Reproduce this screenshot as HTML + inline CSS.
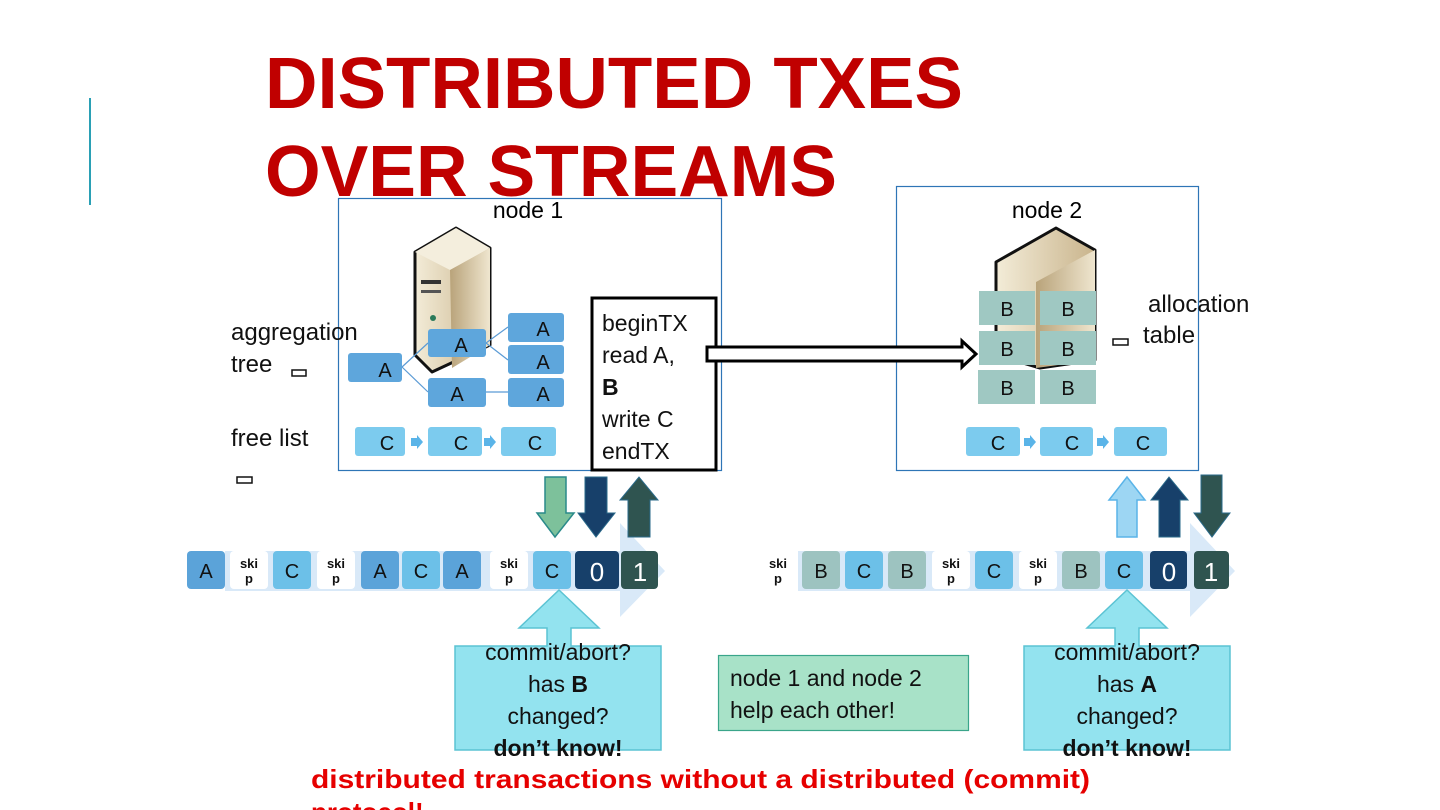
<!DOCTYPE html>
<html><head><meta charset="utf-8"><style>
html,body{margin:0;padding:0;background:#fff;width:1440px;height:810px;overflow:hidden}
svg{display:block;font-family:"Liberation Sans",sans-serif}
</style></head><body>
<svg width="1440" height="810" viewBox="0 0 1440 810" xmlns="http://www.w3.org/2000/svg">
<defs>
<linearGradient id="srv" x1="0" x2="1"><stop offset="0" stop-color="#f3ecd8"/><stop offset="1" stop-color="#c9b48c"/></linearGradient>
<linearGradient id="srvs" x1="0" x2="1"><stop offset="0" stop-color="#b9a37a"/><stop offset="1" stop-color="#efe6cf"/></linearGradient>
</defs>
<rect x="89" y="98" width="2" height="107" fill="#2aa0b5"/>
<text x="265" y="108" font-size="72" font-weight="bold" fill="#c00000" textLength="698" lengthAdjust="spacingAndGlyphs">DISTRIBUTED TXES</text>
<text x="265" y="196" font-size="72" font-weight="bold" fill="#c00000" textLength="572" lengthAdjust="spacingAndGlyphs">OVER STREAMS</text>

<rect x="338.5" y="198.5" width="383" height="272" fill="none" stroke="#2e75b6" stroke-width="1.2"/>
<rect x="896.5" y="186.5" width="302" height="284" fill="none" stroke="#2e75b6" stroke-width="1.2"/>
<text x="528" y="218" font-size="23" text-anchor="middle">node 1</text>
<text x="1047" y="218" font-size="23" text-anchor="middle">node 2</text>

<g stroke="#111" stroke-width="3" stroke-linejoin="round">
<polygon points="415,252 456,228 490,248 490,345 432,372 415,355" fill="url(#srv)"/>
</g>
<polygon points="415,252 456,228 490,248 450,270" fill="#f4eedd"/>
<polygon points="450,270 490,248 490,345 452,368" fill="url(#srvs)"/>
<rect x="421" y="280" width="20" height="4" fill="#333"/><rect x="421" y="290" width="20" height="3" fill="#555"/>
<circle cx="433" cy="318" r="3" fill="#2a7a5a"/>
<g stroke="#111" stroke-width="3" stroke-linejoin="round">
<polygon points="996,262 1056,228 1095,250 1095,360 1040,368 996,355" fill="url(#srv)"/>
</g>
<polygon points="1036,282 1095,250 1095,360 1036,368" fill="url(#srvs)"/>

<g stroke="#5b9bd5" stroke-width="1.2">
<line x1="402" y1="367" x2="428" y2="343"/><line x1="402" y1="367" x2="428" y2="392"/>
<line x1="486" y1="343" x2="508" y2="327"/><line x1="486" y1="343" x2="508" y2="360"/>
<line x1="486" y1="392" x2="508" y2="392"/>
</g>
<g fill="#5ea6dc">
<rect x="348" y="353" width="54" height="29" rx="3"/>
<rect x="428" y="329" width="58" height="28" rx="3"/>
<rect x="428" y="378" width="58" height="29" rx="3"/>
<rect x="508" y="313" width="56" height="29" rx="3"/>
<rect x="508" y="345" width="56" height="29" rx="3"/>
<rect x="508" y="378" width="56" height="29" rx="3"/>
</g>
<g font-size="20" fill="#111" text-anchor="middle">
<text x="385" y="377">A</text><text x="461" y="352">A</text><text x="457" y="401">A</text>
<text x="543" y="336">A</text><text x="543" y="369">A</text><text x="543" y="401">A</text>
</g>
<g fill="#7ccbee">
<rect x="355" y="427" width="50" height="29" rx="3"/><rect x="428" y="427" width="54" height="29" rx="3"/><rect x="501" y="427" width="55" height="29" rx="3"/>
<rect x="966" y="427" width="54" height="29" rx="3"/><rect x="1040" y="427" width="53" height="29" rx="3"/><rect x="1114" y="427" width="53" height="29" rx="3"/>
</g>
<g fill="#5ab4e8">
<polygon points="411,438 417,438 417,435 423,442 417,449 417,446 411,446"/>
<polygon points="484,438 490,438 490,435 496,442 490,449 490,446 484,446"/>
<polygon points="1024,438 1030,438 1030,435 1036,442 1030,449 1030,446 1024,446"/>
<polygon points="1097,438 1103,438 1103,435 1109,442 1103,449 1103,446 1097,446"/>
</g>
<g font-size="20" fill="#111" text-anchor="middle">
<text x="387" y="450">C</text><text x="461" y="450">C</text><text x="535" y="450">C</text>
<text x="998" y="450">C</text><text x="1072" y="450">C</text><text x="1143" y="450">C</text>
</g>

<g font-size="24" fill="#111">
<text x="231" y="340">aggregation</text><text x="231" y="372">tree</text>
<text x="231" y="446">free list</text>
<text x="1148" y="312">allocation</text><text x="1143" y="343">table</text>
</g>
<rect x="292" y="370" width="14" height="6" fill="none" stroke="#111" stroke-width="1.5"/>
<rect x="237" y="477" width="15" height="6" fill="none" stroke="#111" stroke-width="1.5"/>
<rect x="1113" y="339" width="15" height="6" fill="none" stroke="#111" stroke-width="1.5"/>

<g fill="#9fc8c2">
<rect x="979" y="291" width="56" height="34"/><rect x="1040" y="291" width="56" height="34"/>
<rect x="979" y="331" width="56" height="34"/><rect x="1040" y="331" width="56" height="34"/>
<rect x="978" y="370" width="57" height="34"/><rect x="1040" y="370" width="56" height="34"/>
</g>
<g font-size="20" fill="#111" text-anchor="middle">
<text x="1007" y="316">B</text><text x="1068" y="316">B</text>
<text x="1007" y="356">B</text><text x="1068" y="356">B</text>
<text x="1007" y="395">B</text><text x="1068" y="395">B</text>
</g>

<rect x="592" y="298" width="124" height="172" fill="#fff" stroke="#000" stroke-width="3"/>
<g font-size="23" fill="#111">
<text x="602" y="331">beginTX</text><text x="602" y="363">read A,</text>
<text x="602" y="395" font-weight="bold">B</text><text x="602" y="427">write C</text><text x="602" y="459">endTX</text>
</g>
<polygon points="707,347 962,347 962,341 976,354 962,367 962,361 707,361" fill="#fff" stroke="#000" stroke-width="3"/>

<polygon points="225,551 620,551 620,523 665,571 620,617 620,591 225,591" fill="#d9e9f8"/>
<g>
<rect x="187" y="551" width="38" height="38" rx="4" fill="#5ba3d9"/>
<rect x="230" y="551" width="38" height="38" rx="4" fill="#fff"/>
<rect x="273" y="551" width="38" height="38" rx="4" fill="#6cc0e8"/>
<rect x="317" y="551" width="38" height="38" rx="4" fill="#fff"/>
<rect x="361" y="551" width="38" height="38" rx="4" fill="#5ba3d9"/>
<rect x="402" y="551" width="38" height="38" rx="4" fill="#6cc0e8"/>
<rect x="443" y="551" width="38" height="38" rx="4" fill="#5ba3d9"/>
<rect x="490" y="551" width="38" height="38" rx="4" fill="#fff"/>
<rect x="533" y="551" width="38" height="38" rx="4" fill="#6cc0e8"/>
<rect x="575" y="551" width="44" height="38" rx="4" fill="#17406a"/>
<rect x="621" y="551" width="37" height="38" rx="4" fill="#2f5450"/>
</g>
<polygon points="798,551 1190,551 1190,523 1235,571 1190,617 1190,591 798,591" fill="#d9e9f8"/>
<g>
<rect x="802" y="551" width="38" height="38" rx="4" fill="#9dc3c0"/>
<rect x="845" y="551" width="38" height="38" rx="4" fill="#6cc0e8"/>
<rect x="888" y="551" width="38" height="38" rx="4" fill="#9dc3c0"/>
<rect x="932" y="551" width="38" height="38" rx="4" fill="#fff"/>
<rect x="975" y="551" width="38" height="38" rx="4" fill="#6cc0e8"/>
<rect x="1019" y="551" width="38" height="38" rx="4" fill="#fff"/>
<rect x="1062" y="551" width="38" height="38" rx="4" fill="#9dc3c0"/>
<rect x="1105" y="551" width="38" height="38" rx="4" fill="#6cc0e8"/>
<rect x="1150" y="551" width="37" height="38" rx="4" fill="#17406a"/>
<rect x="1194" y="551" width="35" height="38" rx="4" fill="#2f5450"/>
</g>
<g font-size="20" fill="#111" text-anchor="middle">
<text x="206" y="578">A</text><text x="292" y="578">C</text><text x="380" y="578">A</text><text x="421" y="578">C</text><text x="462" y="578">A</text><text x="552" y="578">C</text>
<text x="821" y="578">B</text><text x="864" y="578">C</text><text x="907" y="578">B</text><text x="994" y="578">C</text><text x="1081" y="578">B</text><text x="1124" y="578">C</text>
</g>
<g font-size="26" fill="#fff" text-anchor="middle">
<text x="597" y="581">0</text><text x="640" y="581">1</text><text x="1169" y="581">0</text><text x="1211" y="581">1</text>
</g>
<g font-size="13" font-weight="bold" fill="#111" text-anchor="middle">
<text x="249" y="568">ski</text><text x="249" y="583">p</text>
<text x="336" y="568">ski</text><text x="336" y="583">p</text>
<text x="509" y="568">ski</text><text x="509" y="583">p</text>
<text x="778" y="568">ski</text><text x="778" y="583">p</text>
<text x="951" y="568">ski</text><text x="951" y="583">p</text>
<text x="1038" y="568">ski</text><text x="1038" y="583">p</text>
</g>

<polygon points="545,477 566,477 566,513 574,513 555,537 537,513 545,513" fill="#7dc19b" stroke="#2a8a8a" stroke-width="1.5"/>
<polygon points="585,477 607,477 607,513 615,513 596,537 578,513 585,513" fill="#17406a" stroke="#2a6a8a" stroke-width="1"/>
<polygon points="628,537 650,537 650,500 658,500 639,477 620,500 628,500" fill="#2f5450" stroke="#2a6a8a" stroke-width="1"/>
<polygon points="1117,537 1137,537 1137,500 1145,500 1127,477 1109,500 1117,500" fill="#9dd6f3" stroke="#5ab4e8" stroke-width="1.5"/>
<polygon points="1159,537 1180,537 1180,500 1188,500 1169,477 1151,500 1159,500" fill="#17406a" stroke="#2a6a8a" stroke-width="1"/>
<polygon points="1201,475 1222,475 1222,513 1230,513 1212,537 1194,513 1201,513" fill="#2f5450" stroke="#2a6a8a" stroke-width="1"/>

<g fill="#93e3ef" stroke="#5bc3d3" stroke-width="1.5">
<polygon points="455,646 547,646 547,628 519,628 559,590 599,628 571,628 571,646 661,646 661,750 455,750"/>
<polygon points="1024,646 1115,646 1115,628 1087,628 1127,590 1167,628 1139,628 1139,646 1230,646 1230,750 1024,750"/>
</g>
<rect x="718.5" y="655.5" width="250" height="75" fill="#a8e2c8" stroke="#3aa58a" stroke-width="1.2"/>
<g font-size="23" fill="#111" text-anchor="middle">
<text x="558" y="660">commit/abort?</text>
<text x="558" y="692">has <tspan font-weight="bold">B</tspan></text>
<text x="558" y="724">changed?</text>
<text x="558" y="756" font-weight="bold">don’t know!</text>
<text x="1127" y="660">commit/abort?</text>
<text x="1127" y="692">has <tspan font-weight="bold">A</tspan></text>
<text x="1127" y="724">changed?</text>
<text x="1127" y="756" font-weight="bold">don’t know!</text>
</g>
<g font-size="23" fill="#111">
<text x="730" y="686">node 1 and node 2</text>
<text x="730" y="718">help each other!</text>
</g>
<text x="311" y="788" font-size="26" font-weight="bold" fill="#e60000" textLength="779" lengthAdjust="spacingAndGlyphs">distributed transactions without a distributed (commit)</text>
<text x="311" y="821" font-size="26" font-weight="bold" fill="#e60000">protocol!</text>
</svg>
</body></html>
